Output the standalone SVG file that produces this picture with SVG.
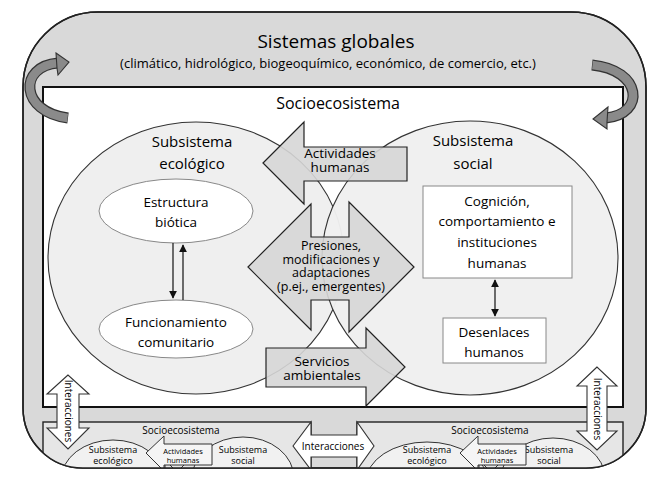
<svg xmlns="http://www.w3.org/2000/svg" width="672" height="484" viewBox="0 0 672 484">
<style>
text{font-family:"Open Sans","Noto Sans","Liberation Sans",sans-serif;fill:#000;text-anchor:middle}
.big{font-size:15px}
.mid{font-size:13.5px}
.pr{font-size:12.5px}
.sm{font-size:10px}
.xs{font-size:9px}
.xxs{font-size:7.5px}
.band{fill:#d9d9d9;stroke:#222;stroke-width:1.5}
.circ{fill:#efefef;stroke:#333;stroke-width:1.1}
.arr{fill:#d6d6d6;fill-opacity:0.9;stroke:#222;stroke-width:1.2}
.wht{fill:#fff;stroke:#333;stroke-width:1.1}
.oval{fill:#fff;stroke:#888;stroke-width:1}
.box{fill:#fff;stroke:#888;stroke-width:1}
.panel{fill:#e6e6e6;stroke:#222;stroke-width:1.4}
.pc{fill:#f1f1f1;stroke:#333;stroke-width:1}
.link{stroke:#111;stroke-width:1.2;fill:none}
.rib-o{fill:none;stroke:#333;stroke-width:11}
.rib-i{fill:none;stroke:#8a8a8a;stroke-width:8.6}
.head{fill:#8a8a8a;stroke:#333;stroke-width:1.1}
.sarr{fill:#f5f5f5;stroke:#333;stroke-width:1}
</style>
<defs>
<clipPath id="outerClip"><path d="M98,12 H571 A75,75 0 0 1 646,87 V408 A60,60 0 0 1 586,468 H83 A60,60 0 0 1 23,408 V87 A75,75 0 0 1 98,12 Z"/></clipPath>
<clipPath id="pL"><rect x="43" y="422" width="268" height="50"/></clipPath>
<clipPath id="pR"><rect x="357" y="422" width="266" height="50"/></clipPath>
<marker id="ah" viewBox="0 0 10 10" refX="9" refY="5" markerWidth="8" markerHeight="8" orient="auto-start-reverse" markerUnits="userSpaceOnUse"><path d="M0,0 L10,5 L0,10 Z" fill="#111"/></marker>
</defs>

<g id="global-systems">
<path class="band" d="M98,12 H571 A75,75 0 0 1 646,87 V408 A60,60 0 0 1 586,468 H83 A60,60 0 0 1 23,408 V87 A75,75 0 0 1 98,12 Z"/>
<text x="336" y="48" style="font-size:19px">Sistemas globales</text>
<text x="328" y="68" style="font-size:13px">(climático, hidrológico, biogeoquímico, económico, de comercio, etc.)</text>
</g>

<g id="socioecosystem">
<rect x="43" y="87" width="580" height="320" fill="#fff" stroke="#111" stroke-width="2"/>
<text x="338" y="109" style="font-size:16px">Socioecosistema</text>
</g>

<g id="ecological-subsystem">
<ellipse class="circ" cx="196" cy="258" rx="148" ry="136"/>
</g>
<g id="social-subsystem">
<ellipse class="circ" cx="470" cy="258" rx="148" ry="137" fill-opacity="0.97"/>
</g>
<g id="labels-subsystems">
<text class="big" x="192" y="147">Subsistema<tspan x="192" dy="22">ecológico</tspan></text>
<text class="big" x="473" y="146">Subsistema<tspan x="473" dy="23">social</tspan></text>
</g>

<g id="biotic-structure">
<ellipse class="oval" cx="176" cy="211" rx="77" ry="32"/>
<text class="mid" x="176" y="207">Estructura<tspan x="176" dy="20">biótica</tspan></text>
</g>
<g id="community-functioning">
<ellipse class="oval" cx="176" cy="329" rx="77" ry="29"/>
<text class="mid" x="176" y="327">Funcionamiento<tspan x="176" dy="20">comunitario</tspan></text>
</g>
<g id="cognition">
<rect class="box" x="423" y="186" width="149" height="92"/>
<text class="mid" x="497" y="206">Cognición,<tspan x="497" dy="20">comportamiento e</tspan><tspan x="497" dy="21">instituciones</tspan><tspan x="497" dy="21">humanas</tspan></text>
</g>
<g id="human-outcomes">
<rect class="box" x="443" y="318" width="103" height="45"/>
<text class="mid" x="494" y="337">Desenlaces<tspan x="494" dy="20">humanos</tspan></text>
</g>

<g id="human-activities">
<polygon class="arr" points="263,163 304,122 304,147 407,147 407,181 304,181 304,204"/>
<text class="mid" x="340" y="158">Actividades<tspan x="340" dy="14">humanas</tspan></text>
</g>
<g id="pressures">
<polygon class="arr" points="248,267 311,204 311,237 349,237 349,202 414,267 349,332 349,300 311,300 311,330"/>
<text class="pr" x="331" y="250">Presiones,<tspan x="331" dy="13.5">modificaciones y</tspan><tspan x="331" dy="13.5">adaptaciones</tspan><tspan x="331" dy="13.5">(p.ej., emergentes)</tspan></text>
</g>
<g id="ecosystem-services">
<polygon class="arr" points="266,348 366,348 366,328 405,367 366,406 366,387 266,387"/>
<text class="mid" x="322" y="365.5">Servicios<tspan x="322" dy="14">ambientales</tspan></text>
</g>

<g id="connectors">
<line class="link" x1="173" y1="243" x2="173" y2="298" marker-end="url(#ah)"/>
<line class="link" x1="183" y1="300" x2="183" y2="245" marker-end="url(#ah)"/>
<line class="link" x1="495" y1="280" x2="495" y2="316" marker-start="url(#ah)" marker-end="url(#ah)"/>
<path class="rib-o" d="M68,118 C20,112 18,66 58,63"/>
<path class="rib-i" d="M67.5,118 C20,112 18,66 58.5,63"/>
<polygon class="head" points="56,53 69,62 58,75 57,68"/>
<path class="rib-o" d="M592,65 C642,70 646,114 606,118"/>
<path class="rib-i" d="M592.5,65 C642,70 646,114 605.5,118"/>
<polygon class="head" points="608,107 593,119 607,129 607,122"/>
</g>

<g clip-path="url(#outerClip)">
<g id="panel-left">
<rect class="panel" x="43" y="422" width="268" height="60"/>
<g clip-path="url(#pL)">
<ellipse class="pc" cx="113" cy="480" rx="52" ry="40"/>
<ellipse class="pc" cx="243" cy="478" rx="51" ry="41"/>
<path d="M165,465 V470 M170,465 L175,470 M184,465 L179,470" stroke="#333" stroke-width="1" fill="none"/>
</g>
<text class="sm" x="181" y="434">Socioecosistema</text>
<text class="xs" x="113" y="453">Subsistema<tspan x="113" dy="11">ecológico</tspan></text>
<text class="xs" x="243" y="453">Subsistema<tspan x="243" dy="11">social</tspan></text>
<polygon class="sarr" points="146,453 164,436 164,444 212,444 212,465 164,465 164,471"/>
<text class="xxs" x="183" y="453.5">Actividades<tspan x="183" dy="9">humanas</tspan></text>
</g>
<g id="panel-right">
<rect class="panel" x="357" y="422" width="266" height="60"/>
<g clip-path="url(#pR)">
<ellipse class="pc" cx="427" cy="482" rx="61" ry="40"/>
<ellipse class="pc" cx="553" cy="478" rx="52" ry="40"/>
<path d="M479,465 V470 M484,465 L489,470 M498,465 L493,470" stroke="#333" stroke-width="1" fill="none"/>
</g>
<text class="sm" x="490" y="434">Socioecosistema</text>
<text class="xs" x="427" y="453">Subsistema<tspan x="427" dy="11">ecológico</tspan></text>
<text class="xs" x="549" y="453">Subsistema<tspan x="549" dy="11">social</tspan></text>
<polygon class="sarr" points="460,453 478,436 478,444 526,444 526,465 478,465 478,471"/>
<text class="xxs" x="497" y="453.5">Actividades<tspan x="497" dy="9">humanas</tspan></text>
</g>
<g id="interactions-bottom">
<polygon class="wht" points="293,446 311,422 311,435 357,435 357,422 374,446 357,470 357,457 311,457 311,470"/>
<text class="sm" x="333" y="449.5">Interacciones</text>
</g>
</g>
<path d="M98,12 H571 A75,75 0 0 1 646,87 V408 A60,60 0 0 1 586,468 H83 A60,60 0 0 1 23,408 V87 A75,75 0 0 1 98,12 Z" fill="none" stroke="#222" stroke-width="1.5"/>

<g id="interactions-left">
<polygon class="wht" points="68,375 47,394 57,394 57,428 47,428 68,449 89,428 79,428 79,394 89,394"/>
<text class="sm" transform="translate(64.5,411) rotate(90)">Interacciones</text>
</g>
<g id="interactions-right">
<polygon class="wht" points="597,367 577,386 587,386 587,431 577,431 597,450 617,431 607,431 607,386 617,386"/>
<text class="sm" transform="translate(593.5,409) rotate(90)">Interacciones</text>
</g>
</svg>
